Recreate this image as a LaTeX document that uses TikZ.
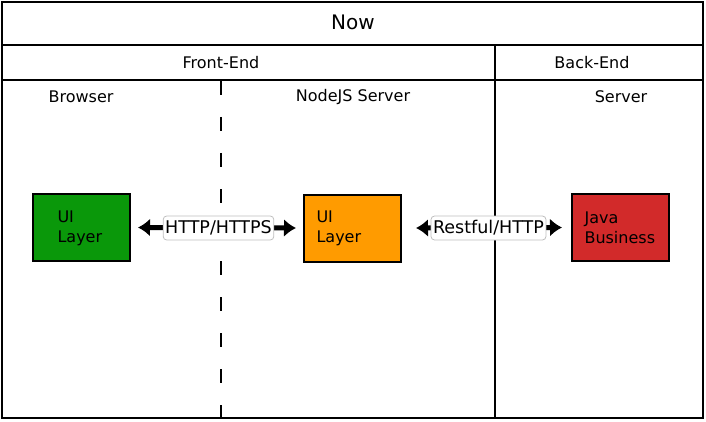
\documentclass[tikz,border=0pt]{standalone}
\usepackage{fontspec}
\setmainfont{DejaVu Sans}
\usetikzlibrary{arrows.meta}
\definecolor{boxgreen}{RGB}{10,152,10}
\definecolor{boxorange}{RGB}{255,155,0}
\definecolor{boxred}{RGB}{210,42,42}
\tikzset{
  frame/.style={line width=2.2pt},
  divider/.style={line width=1.8pt},
  hdr/.style={font=\fontsize{16}{18}\selectfont, anchor=center},
  layerbox/.style={draw=black, line width=2pt, minimum width=97pt, minimum height=67pt, inner sep=0pt},
  boxtext/.style={font=\fontsize{16}{20}\selectfont, align=left, anchor=west},
  conn/.style={line width=5pt, {Latex[length=12pt,width=18pt]}-{Latex[length=12pt,width=18pt]}},
  lbl/.style={fill=white, draw=black!25, line width=0.8pt, rounded corners=3.5pt, font=\fontsize{17.5}{19}\selectfont, inner xsep=2pt, inner ysep=1pt, minimum height=24pt}
}
\begin{document}
\begin{tikzpicture}[x=1pt,y=-1pt]
\useasboundingbox (0,0) rectangle (706,422);
% frame
\draw[frame] (2,2) rectangle (703,418);
\draw[divider] (2,45) -- (703,45);
\draw[divider] (2,80) -- (703,80);
\draw[divider] (495,45) -- (495,418);
\draw[divider, line width=2.2pt, dash pattern=on 14pt off 22pt] (221,81) -- (221,418);
% headers
\node[font=\fontsize{20}{22}\selectfont] (now) at (353,22) {Now};
\node[hdr] (fe) at (221,63) {Front-End};
\node[hdr] (be) at (592,63) {Back-End};
\node[hdr] (br) at (81,97) {Browser};
\node[hdr] (ns) at (353,97) {NodeJS Server};
\node[hdr] (sv) at (621,97) {Server};
% boxes
\node[layerbox, fill=boxgreen] (ui1) at (81.5,227.5) {};
\node[layerbox, fill=boxorange] (ui2) at (352.5,228) {};
\node[layerbox, fill=boxred] (java) at (620.5,227.5) {};
\node[boxtext] (t1) at (54,228) {UI\\Layer};
\node[boxtext] (t2) at (313,228) {UI\\Layer};
\node[boxtext] (t3) at (581,228) {Java\\Business};
% connectors
\draw[conn] ([xshift=7pt]ui1.east) -- ([xshift=-7pt]ui2.west);
\draw[conn] ([xshift=14pt]ui2.east) -- ([xshift=-9pt]java.west);
\node[lbl] (h1) at (218.5,228) {HTTP/HTTPS};
\node[lbl] (h2) at (488.5,228) {Restful/HTTP};
\end{tikzpicture}
\end{document}
